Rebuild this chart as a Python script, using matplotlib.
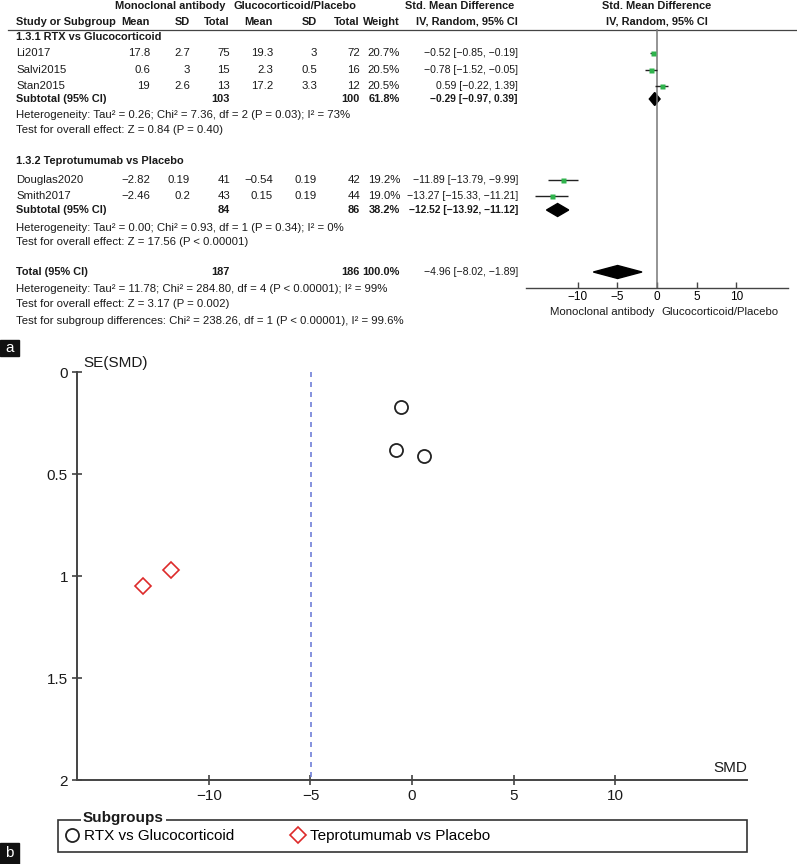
import matplotlib
matplotlib.use('Agg')
import matplotlib.pyplot as plt
from matplotlib.patches import Polygon, Rectangle

plt.rcParams['font.family'] = ['Liberation Sans', 'DejaVu Sans']

# ---- data: individual studies
studies = ['Li2017', 'Salvi2015', 'Stan2015', 'Douglas2020', 'Smith2017']
group = [0, 0, 0, 1, 1]
mab_mean = [17.8, 0.6, 19, -2.82, -2.46]
mab_sd = [2.7, 3, 2.6, 0.19, 0.2]
mab_n = [75, 15, 13, 41, 43]
ctl_mean = [19.3, 2.3, 17.2, -0.54, 0.15]
ctl_sd = [3, 0.5, 3.3, 0.19, 0.19]
ctl_n = [72, 16, 12, 42, 44]
weight = [20.7, 20.5, 20.5, 19.2, 19.0]
smd = [-0.52, -0.78, 0.59, -11.89, -13.27]
smd_lo = [-0.85, -1.52, -0.22, -13.79, -15.33]
smd_hi = [-0.19, -0.05, 1.39, -9.99, -11.21]
se_smd = [0.17, 0.38, 0.41, 0.97, 1.05]

# ---- data: subgroups and total
subgroups = ['RTX vs Glucocorticoid', 'Teprotumumab vs Placebo']
sub_codes = ['1.3.1', '1.3.2']
sub_mab_n = [103, 84]
sub_ctl_n = [100, 86]
sub_weight = [61.8, 38.2]
sub_smd = [-0.29, -12.52]
sub_lo = [-0.97, -13.92]
sub_hi = [0.39, -11.12]
sub_het = ['Heterogeneity: Tau² = 0.26; Chi² = 7.36, df = 2 (P = 0.03); I² = 73%',
           'Heterogeneity: Tau² = 0.00; Chi² = 0.93, df = 1 (P = 0.34); I² = 0%']
sub_z = ['Test for overall effect: Z = 0.84 (P = 0.40)',
         'Test for overall effect: Z = 17.56 (P < 0.00001)']
tot_mab_n, tot_ctl_n, tot_weight = 187, 186, 100.0
tot_smd, tot_lo, tot_hi = -4.96, -8.02, -1.89
tot_notes = ['Heterogeneity: Tau² = 11.78; Chi² = 284.80, df = 4 (P < 0.00001); I² = 99%',
             'Test for overall effect: Z = 3.17 (P = 0.002)',
             'Test for subgroup differences: Chi² = 238.26, df = 1 (P < 0.00001), I² = 99.6%']

# ---- layout (pixel rows from the top of the figure)
W, H = 797, 864
row_study = [53, 70, 86, 180, 196]
row_sub_title = [37, 161]
row_sub_total = [99, 210]
row_sub_het = [115, 228]
row_sub_z = [130, 242]
row_total = 272
row_tot_notes = [289, 304, 321]
col_right = [150, 190, 230, 273, 317, 360, 400, 518]
FS, BOLD_FS, CI_FS = 8.2, 7.9, 7.6


def num(v):
    return f'{v:g}'.replace('-', '−')


def ci(v, lo, hi):
    return f'{v:.2f} [{lo:.2f}, {hi:.2f}]'.replace('-', '−')


fig = plt.figure(figsize=(W / 100, H / 100), dpi=100)

# overlay axes in pixel coordinates for all the table text
axt = fig.add_axes([0, 0, 1, 1])
axt.set_xlim(0, W)
axt.set_ylim(H, 0)
axt.axis('off')


def put(x, y, s, ha='left', bold=False, size=None):
    axt.text(x, y, s, ha=ha, va='center',
             fontsize=size or (BOLD_FS if bold else FS),
             fontweight='bold' if bold else 'normal', color='#1a1a1a')


# headers
put(170, 6, 'Monoclonal antibody', ha='center', bold=True)
put(295, 6, 'Glucocorticoid/Placebo', ha='center', bold=True)
put(460, 6, 'Std. Mean Difference', ha='center', bold=True)
put(657, 6, 'Std. Mean Difference', ha='center', bold=True)
put(16, 22, 'Study or Subgroup', bold=True)
for x, s in zip(col_right[:7], ['Mean', 'SD', 'Total', 'Mean', 'SD', 'Total', 'Weight']):
    put(x, 22, s, ha='right', bold=True)
put(518, 22, 'IV, Random, 95% CI', ha='right', bold=True)
put(657, 22, 'IV, Random, 95% CI', ha='center', bold=True)
axt.plot([8, W], [29.5, 29.5], color='#444444', lw=0.9)

# study rows
for i, y in enumerate(row_study):
    put(16, y, studies[i])
    vals = [num(mab_mean[i]), num(mab_sd[i]), str(mab_n[i]),
            num(ctl_mean[i]), num(ctl_sd[i]), str(ctl_n[i]),
            f'{weight[i]:.1f}%']
    for x, s in zip(col_right, vals):
        put(x, y, s, ha='right')
    put(col_right[7], y, ci(smd[i], smd_lo[i], smd_hi[i]), ha='right', size=CI_FS)

# subgroup rows
for g in range(2):
    put(16, row_sub_title[g], f'{sub_codes[g]} {subgroups[g]}', bold=True)
    y = row_sub_total[g]
    put(16, y, 'Subtotal (95% CI)', bold=True)
    put(col_right[2], y, str(sub_mab_n[g]), ha='right', bold=True)
    put(col_right[5], y, str(sub_ctl_n[g]), ha='right', bold=True)
    put(col_right[6], y, f'{sub_weight[g]:.1f}%', ha='right', bold=True)
    put(col_right[7], y, ci(sub_smd[g], sub_lo[g], sub_hi[g]), ha='right', bold=True,
        size=CI_FS - 0.2)
    put(16, row_sub_het[g], sub_het[g])
    put(16, row_sub_z[g], sub_z[g])

put(16, row_total, 'Total (95% CI)', bold=True)
put(col_right[2], row_total, str(tot_mab_n), ha='right', bold=True)
put(col_right[5], row_total, str(tot_ctl_n), ha='right', bold=True)
put(col_right[6], row_total, f'{tot_weight:.1f}%', ha='right', bold=True)
put(col_right[7], row_total, ci(tot_smd, tot_lo, tot_hi), ha='right', size=CI_FS)
for y, s in zip(row_tot_notes, tot_notes):
    put(16, y, s)

put(655, 312, 'Monoclonal antibody', ha='right')
put(661, 312, 'Glucocorticoid/Placebo', ha='left')

# ---- forest plot
axf = fig.add_axes([526 / W, 1 - 288 / H, 262 / W, (288 - 29) / H])
axf.patch.set_alpha(0)
axf.set_xlim(-16.5, 16.5)
axf.set_ylim(288, 29)
for s in ['top', 'right', 'left']:
    axf.spines[s].set_visible(False)
axf.spines['bottom'].set_color('#444444')
axf.spines['bottom'].set_linewidth(1.0)
axf.set_yticks([])
axf.set_xticks([-10, -5, 0, 5, 10])
axf.tick_params(axis='x', direction='in', length=4, width=1, color='#444444',
                labelsize=8.5, pad=2)
axf.axvline(0, color='#777777', lw=1.1)
axf.hlines(row_study, smd_lo, smd_hi, color='#222222', lw=1.0)
axf.plot(smd, row_study, 's', color='#2fb34c', ms=3.6, mec='none')
for est, lo, hi, y in zip(sub_smd + [tot_smd], sub_lo + [tot_lo], sub_hi + [tot_hi],
                          row_sub_total + [row_total]):
    axf.add_patch(Polygon([[lo, y], [est, y - 6.5], [hi, y], [est, y + 6.5]],
                          closed=True, color='black'))

# ---- funnel plot
ax2 = fig.add_axes([77 / W, 1 - 780 / H, 670 / W, 408 / H])
ax2.patch.set_alpha(0)
ax2.set_xlim(-16.5, 16.5)
ax2.set_ylim(2, 0)
for s in ['top', 'right']:
    ax2.spines[s].set_visible(False)
for s in ['bottom', 'left']:
    ax2.spines[s].set_color('#444444')
    ax2.spines[s].set_linewidth(1.4)
ax2.set_xticks([-10, -5, 0, 5, 10])
ax2.set_yticks([0, 0.5, 1, 1.5, 2])
ax2.set_yticklabels(['0', '0.5', '1', '1.5', '2'])
ax2.tick_params(direction='inout', length=7, width=1.1, color='#333333',
                labelsize=11, pad=3, labelcolor='#1a1a1a')
ax2.plot([tot_smd, tot_smd], [0, 2], ls=(0, (3, 3)), color='#6f7fd8', lw=1.2)

x0 = [v for v, g in zip(smd, group) if g == 0]
y0 = [v for v, g in zip(se_smd, group) if g == 0]
x1 = [v for v, g in zip(smd, group) if g == 1]
y1 = [v for v, g in zip(se_smd, group) if g == 1]
h0, = ax2.plot(x0, y0, 'o', mfc='none', mec='#222222', ms=9.4, mew=1.3, clip_on=False)
h1, = ax2.plot(x1, y1, 'D', mfc='none', mec='#dd2a2a', ms=8, mew=1.2, clip_on=False)

put(83, 363, 'SE(SMD)', size=11)
put(747, 768, 'SMD', ha='right', size=11)

# legend with "Subgroups" title on the frame
axt.add_patch(Rectangle((58, 820), 689, 32, fill=False, ec='#333333', lw=1.2))
axt.text(83, 818, 'Subgroups', ha='left', va='center', fontsize=11, fontweight='bold',
         color='#1a1a1a', bbox=dict(fc='white', ec='none', pad=1.5))
for h, lab, xc in zip([h0, h1], subgroups, [72, 298]):
    fig.legend([h], [lab], loc='center left', bbox_to_anchor=((xc - 7.6) / W, 1 - 836 / H),
               frameon=False, fontsize=11, handlelength=1.0, handletextpad=0.3,
               borderpad=0, borderaxespad=0)

# panel letters
axt.add_patch(Rectangle((0, 340), 19, 16, color='#111111'))
axt.text(9.5, 347.5, 'a', color='white', ha='center', va='center', fontsize=11)
axt.add_patch(Rectangle((0, 843), 19, 21, color='#111111'))
axt.text(9.5, 853, 'b', color='white', ha='center', va='center', fontsize=11)

fig.savefig('out.png', dpi=100)
